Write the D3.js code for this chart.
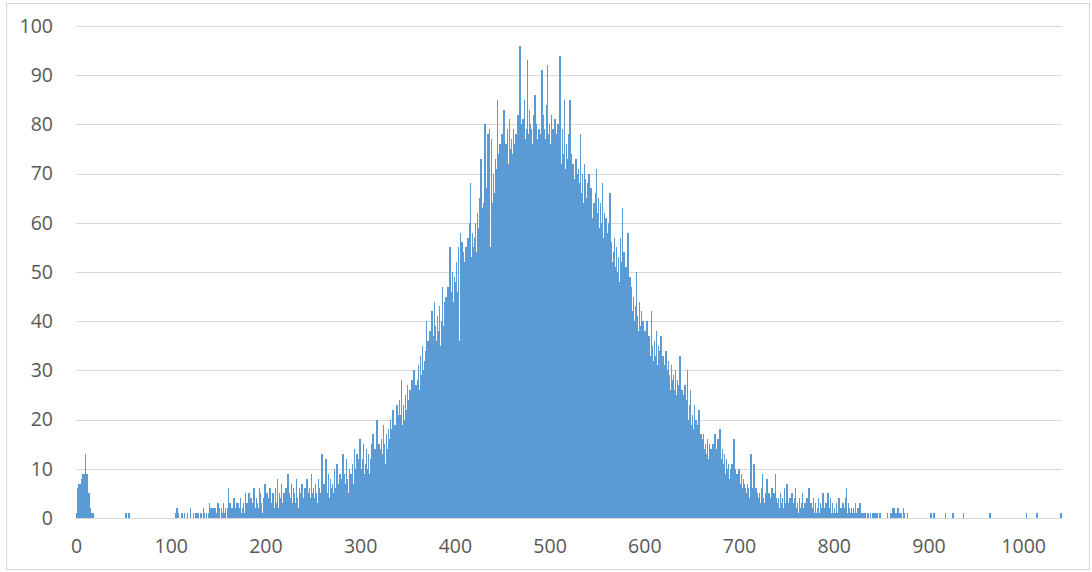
<!DOCTYPE html>
<html>
<head>
<meta charset="utf-8">
<script src="https://cdn.jsdelivr.net/npm/d3@7"></script>
<style>
  html, body { margin: 0; padding: 0; background: #ffffff; }
  svg { display: block; }
</style>
</head>
<body>
<svg id="chart" width="1092" height="572"></svg>
<script>
// Histogram counts, one per category 0..1040 (rows of 10)
const counts = [
  1,6,7,7,7,8,9,9,9,13,
  9,9,5,5,2,1,1,1,1,0,
  0,0,0,0,0,0,0,0,0,0,
  0,0,0,0,0,0,0,0,0,0,
  0,0,0,0,0,0,0,0,0,0,
  0,0,1,0,0,1,0,0,0,0,
  0,0,0,0,0,0,0,0,0,0,
  0,0,0,0,0,0,0,0,0,0,
  0,0,0,0,0,0,0,0,0,0,
  0,0,0,0,0,0,0,0,0,0,
  0,0,0,0,0,1,2,1,0,0,
  0,1,0,0,1,0,0,1,0,0,
  2,0,0,1,0,0,1,1,1,0,
  0,1,1,0,2,1,0,1,0,1,
  3,1,2,1,2,0,2,1,1,3,
  1,2,0,2,1,3,1,2,0,2,
  6,1,3,2,1,2,4,1,2,3,
  1,3,2,4,1,2,3,1,5,2,
  3,2,5,1,4,2,3,6,2,1,
  4,3,2,6,5,3,1,4,2,7,
  3,5,2,4,6,3,1,5,4,2,
  6,3,8,2,5,4,7,3,2,5,
  4,6,3,9,5,2,4,7,3,6,
  5,3,8,4,2,6,5,3,7,4,
  3,6,4,8,5,3,6,4,9,5,
  6,4,7,5,3,8,6,5,4,13,
  5,7,4,12,6,5,9,4,8,6,
  7,5,10,6,8,11,4,7,9,6,
  8,13,6,9,7,12,8,5,10,9,
  9,11,7,14,8,10,13,9,12,16,
  10,8,12,15,9,11,14,10,13,9,
  12,15,11,17,10,14,13,20,12,15,
  14,12,16,13,19,15,11,17,14,18,
  16,20,15,18,22,17,19,16,23,21,
  18,24,21,28,19,23,20,25,22,27,
  24,21,26,23,28,25,30,22,27,26,
  28,31,26,33,29,35,30,32,34,40,
  33,36,31,38,35,42,37,34,44,39,
  36,41,38,43,35,40,47,39,44,42,
  45,38,47,43,55,41,46,50,44,49,
  48,52,46,55,36,58,50,56,54,52,
  50,55,48,57,52,60,68,53,58,55,
  57,60,54,62,59,65,61,73,63,60,
  64,80,62,67,78,65,79,55,77,64,
  70,66,73,71,85,74,69,76,72,78,
  73,83,60,76,74,79,72,81,75,77,
  74,79,76,65,78,75,82,77,96,80,
  76,81,78,85,77,79,93,78,83,80,
  79,76,82,78,86,80,77,66,79,75,
  78,91,76,82,79,77,84,92,78,80,
  76,82,74,79,77,81,62,78,80,75,
  94,77,72,79,74,85,71,76,73,78,
  70,85,74,68,72,58,69,73,70,67,
  71,68,78,66,70,64,72,69,65,68,
  66,70,63,67,61,52,64,60,66,71,
  62,65,59,64,60,68,57,62,58,61,
  58,55,60,66,56,52,46,54,57,51,
  55,50,53,48,57,52,63,49,54,47,
  51,46,58,44,49,38,47,42,45,40,
  43,50,41,38,44,39,42,36,40,37,
  38,35,40,28,37,36,33,42,35,32,
  36,33,38,31,35,34,32,37,30,33,
  31,28,34,30,27,32,29,26,31,28,
  29,26,30,25,28,24,27,33,23,26,
  25,22,27,21,24,30,20,23,26,19,
  21,18,23,17,20,16,19,22,15,17,
  16,6,17,14,15,13,16,12,15,14,
  14,12,15,13,17,11,14,16,13,18,
  12,10,14,11,13,9,12,10,11,8,
  10,9,11,8,16,10,8,9,7,10,
  8,7,9,6,8,7,6,5,7,6,
  4,2,13,6,5,11,4,6,3,5,
  4,5,3,6,9,4,3,5,4,8,
  3,5,4,3,6,4,5,3,9,4,
  3,4,2,5,3,4,2,6,3,2,
  7,3,2,4,3,5,2,3,4,6,
  2,3,1,4,2,3,5,2,1,3,
  2,4,1,6,2,3,1,2,4,1,
  3,1,2,4,1,3,2,1,5,2,
  1,3,2,5,1,2,4,1,3,1,
  2,1,3,1,2,4,1,2,1,3,
  1,2,4,6,1,3,2,1,2,1,
  2,1,3,1,1,2,1,3,1,1,
  1,0,1,1,0,1,1,0,1,0,
  1,1,0,1,0,1,0,0,1,0,
  0,0,0,0,0,0,1,0,0,1,
  1,2,1,2,1,0,1,2,0,1,
  0,1,0,2,1,0,0,1,0,0,
  0,0,0,0,0,0,0,0,0,0,
  0,0,0,0,0,0,0,0,0,0,
  0,0,1,0,0,1,0,0,0,0,
  0,0,0,0,0,0,0,1,0,0,
  0,0,0,0,0,1,0,0,0,0,
  0,0,0,0,0,0,1,0,0,0,
  0,0,0,0,0,0,0,0,0,0,
  0,0,0,0,0,0,0,0,0,0,
  0,0,0,0,1,0,0,0,0,0,
  0,0,0,0,0,0,0,0,0,0,
  0,0,0,0,0,0,0,0,0,0,
  0,0,0,0,0,0,0,0,0,0,
  0,0,0,1,0,0,0,0,0,0,
  0,0,0,0,1,0,0,0,0,0,
  0,0,0,0,0,0,0,0,0,0,
  0,0,0,0,0,0,0,0,0,1,
  0
];
const categories = counts.map((_, i) => i);
const xTickValues = [0, 100, 200, 300, 400, 500, 600, 700, 800, 900, 1000];
const yTickValues = [0, 10, 20, 30, 40, 50, 60, 70, 80, 90, 100];

const svg = d3.select("#chart");
const plot = { left: 76, right: 1062, top: 26, bottom: 518 };

// chart border
svg.append("rect")
  .attr("x", 6.5).attr("y", 3.5)
  .attr("width", 1083).attr("height", 566)
  .attr("fill", "none").attr("stroke", "#d9d9d9").attr("stroke-width", 1);

const x = d3.scaleBand().domain(categories).range([plot.left, plot.right]).padding(0);
const y = d3.scaleLinear().domain([0, 100]).range([plot.bottom, plot.top]);

// gridlines
svg.append("g").selectAll("line").data(yTickValues).join("line")
  .attr("x1", plot.left).attr("x2", plot.right)
  .attr("y1", d => Math.round(y(d)) + 0.5).attr("y2", d => Math.round(y(d)) + 0.5)
  .attr("stroke", "#d9d9d9").attr("stroke-width", 1);

// bars
svg.append("g").attr("shape-rendering", "crispEdges")
  .selectAll("rect").data(counts).join("rect")
  .attr("x", (d, i) => x(i))
  .attr("width", x.bandwidth() + 0.5)
  .attr("y", d => y(d))
  .attr("height", d => y(0) - y(d))
  .attr("fill", "#5b9bd5");

// y axis labels
const yAxis = d3.axisLeft(y).tickValues(yTickValues).tickSize(0).tickPadding(0);
const gy = svg.append("g").attr("transform", `translate(53,0)`).call(yAxis);
gy.select(".domain").remove();
gy.selectAll("text").attr("font-family", "'Open Sans', sans-serif").attr("font-size", 19.5).attr("fill", "#595959");

// x axis labels
const xAxis = d3.axisBottom(x).tickValues(xTickValues).tickSize(0).tickPadding(0);
const gx = svg.append("g").attr("transform", `translate(0,${plot.bottom + 21})`).call(xAxis);
gx.select(".domain").remove();
gx.selectAll("text").attr("font-family", "'Open Sans', sans-serif").attr("font-size", 19.5).attr("fill", "#595959");
</script>
</body>
</html>
